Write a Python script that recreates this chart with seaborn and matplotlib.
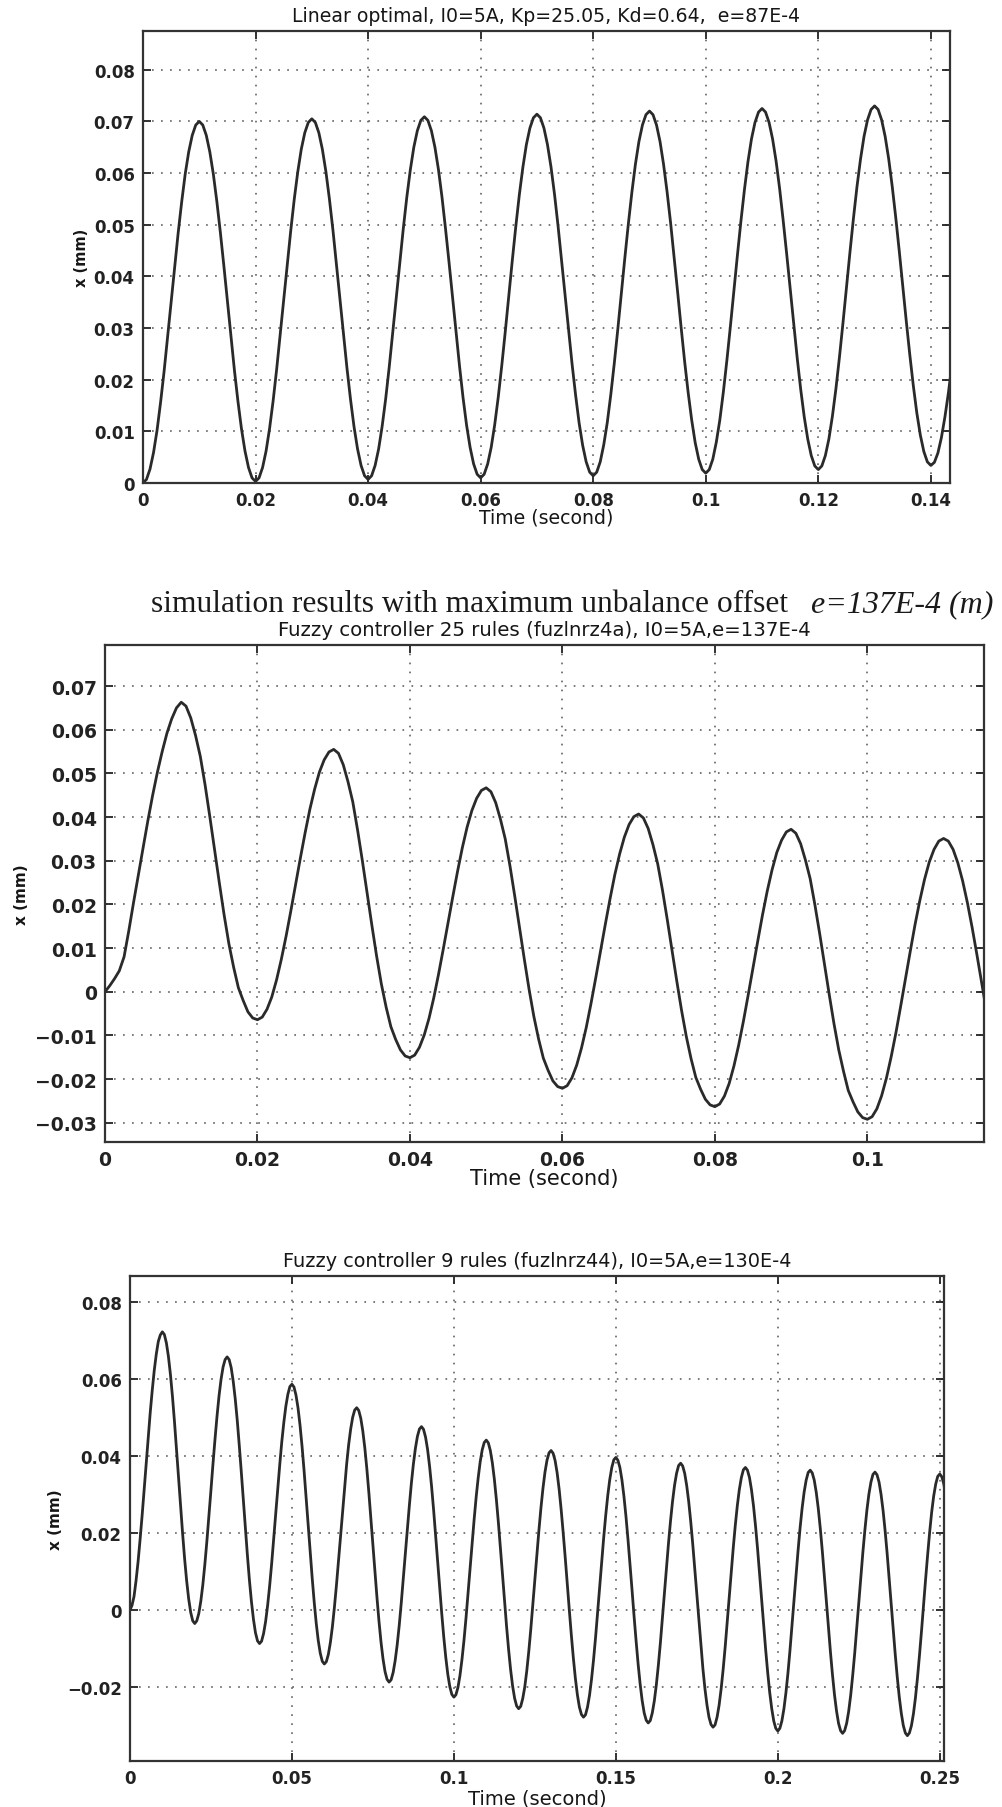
import numpy as np
import pandas as pd
import matplotlib
matplotlib.use("Agg")
import matplotlib.pyplot as plt
import seaborn as sns

#sample step of the simulation traces (seconds)
dt = 0.000625

#x (mm), one value per sample
linear_x = [
    0.0, 0.0007, 0.0027, 0.0059, 0.0102, 0.0156, 0.0216, 0.0282,
    0.0350, 0.0418, 0.0484, 0.0544, 0.0598, 0.0641, 0.0673, 0.0693,
    0.0700, 0.0693, 0.0673, 0.0641, 0.0598, 0.0545, 0.0485, 0.0420,
    0.0352, 0.0284, 0.0218, 0.0158, 0.0105, 0.0062, 0.0030, 0.0010,
    0.0003, 0.0010, 0.0030, 0.0062, 0.0106, 0.0159, 0.0220, 0.0286,
    0.0354, 0.0422, 0.0488, 0.0549, 0.0602, 0.0646, 0.0678, 0.0698,
    0.0705, 0.0698, 0.0678, 0.0646, 0.0603, 0.0550, 0.0490, 0.0424,
    0.0356, 0.0288, 0.0222, 0.0162, 0.0109, 0.0066, 0.0034, 0.0014,
    0.0007, 0.0014, 0.0034, 0.0066, 0.0110, 0.0163, 0.0224, 0.0290,
    0.0358, 0.0426, 0.0492, 0.0553, 0.0606, 0.0650, 0.0682, 0.0702,
    0.0709, 0.0702, 0.0682, 0.0650, 0.0607, 0.0554, 0.0493, 0.0428,
    0.0360, 0.0291, 0.0226, 0.0165, 0.0112, 0.0069, 0.0037, 0.0017,
    0.0010, 0.0017, 0.0037, 0.0069, 0.0113, 0.0166, 0.0227, 0.0293,
    0.0362, 0.0431, 0.0497, 0.0558, 0.0611, 0.0655, 0.0687, 0.0707,
    0.0714, 0.0707, 0.0687, 0.0655, 0.0612, 0.0559, 0.0498, 0.0432,
    0.0364, 0.0296, 0.0230, 0.0170, 0.0116, 0.0073, 0.0041, 0.0021,
    0.0014, 0.0021, 0.0041, 0.0074, 0.0117, 0.0171, 0.0232, 0.0298,
    0.0367, 0.0436, 0.0502, 0.0563, 0.0617, 0.0661, 0.0693, 0.0713,
    0.0720, 0.0713, 0.0693, 0.0661, 0.0617, 0.0564, 0.0504, 0.0438,
    0.0370, 0.0301, 0.0235, 0.0175, 0.0122, 0.0078, 0.0046, 0.0026,
    0.0019, 0.0026, 0.0046, 0.0079, 0.0122, 0.0176, 0.0237, 0.0303,
    0.0372, 0.0441, 0.0507, 0.0568, 0.0622, 0.0666, 0.0698, 0.0718,
    0.0725, 0.0718, 0.0698, 0.0666, 0.0623, 0.0570, 0.0509, 0.0444,
    0.0376, 0.0307, 0.0242, 0.0181, 0.0128, 0.0085, 0.0053, 0.0033,
    0.0026, 0.0033, 0.0053, 0.0085, 0.0129, 0.0182, 0.0243, 0.0309,
    0.0378, 0.0447, 0.0513, 0.0574, 0.0627, 0.0671, 0.0703, 0.0723,
    0.0730, 0.0723, 0.0703, 0.0671, 0.0628, 0.0575, 0.0515, 0.0450,
    0.0382, 0.0314, 0.0249, 0.0189, 0.0136, 0.0093, 0.0061, 0.0041,
    0.0034, 0.0040, 0.0058, 0.0088, 0.0128, 0.0175, 0.0230,
]

fuzzy25_x = [
    0.0, 0.0014, 0.0030, 0.0048, 0.0080, 0.0140, 0.0205, 0.0268,
    0.0330, 0.0392, 0.0450, 0.0503, 0.0550, 0.0592, 0.0625, 0.0650,
    0.0663, 0.0654, 0.0627, 0.0587, 0.0539, 0.0474, 0.0401, 0.0325,
    0.0249, 0.0176, 0.0110, 0.0056, 0.0009, -0.0020, -0.0046, -0.0060,
    -0.0064, -0.0058, -0.0040, -0.0012, 0.0027, 0.0074, 0.0127, 0.0185,
    0.0246, 0.0306, 0.0364, 0.0418, 0.0464, 0.0503, 0.0531, 0.0549,
    0.0555, 0.0546, 0.0520, 0.0481, 0.0435, 0.0371, 0.0301, 0.0227,
    0.0153, 0.0082, 0.0018, -0.0035, -0.0080, -0.0109, -0.0133, -0.0147,
    -0.0151, -0.0145, -0.0127, -0.0099, -0.0061, -0.0014, 0.0040, 0.0098,
    0.0158, 0.0218, 0.0276, 0.0330, 0.0377, 0.0415, 0.0443, 0.0461,
    0.0467, 0.0458, 0.0433, 0.0395, 0.0350, 0.0288, 0.0219, 0.0147,
    0.0075, 0.0006, -0.0056, -0.0108, -0.0152, -0.0180, -0.0204, -0.0217,
    -0.0221, -0.0215, -0.0197, -0.0168, -0.0129, -0.0082, -0.0027, 0.0032,
    0.0093, 0.0154, 0.0213, 0.0268, 0.0315, 0.0354, 0.0383, 0.0401,
    0.0407, 0.0398, 0.0374, 0.0337, 0.0293, 0.0233, 0.0166, 0.0095,
    0.0025, -0.0042, -0.0102, -0.0153, -0.0196, -0.0223, -0.0246, -0.0259,
    -0.0263, -0.0257, -0.0239, -0.0210, -0.0170, -0.0122, -0.0067, -0.0007,
    0.0055, 0.0116, 0.0176, 0.0231, 0.0279, 0.0319, 0.0347, 0.0366,
    0.0372, 0.0363, 0.0339, 0.0302, 0.0259, 0.0199, 0.0133, 0.0063,
    -0.0006, -0.0073, -0.0133, -0.0182, -0.0226, -0.0252, -0.0275, -0.0288,
    -0.0292, -0.0286, -0.0268, -0.0238, -0.0198, -0.0149, -0.0094, -0.0033,
    0.0030, 0.0092, 0.0153, 0.0208, 0.0257, 0.0297, 0.0326, 0.0345,
    0.0351, 0.0345, 0.0326, 0.0295, 0.0254, 0.0204, 0.0147, 0.0085,
    0.0020, -0.0044,
]

fuzzy9_x = [
    0.0, 0.0012, 0.0035, 0.0076, 0.0125, 0.0183, 0.0245, 0.0312,
    0.0380, 0.0447, 0.0512, 0.0570, 0.0622, 0.0664, 0.0697, 0.0714,
    0.0722, 0.0715, 0.0693, 0.0658, 0.0611, 0.0554, 0.0488, 0.0417,
    0.0344, 0.0270, 0.0199, 0.0133, 0.0076, 0.0029, -0.0006, -0.0028,
    -0.0035, -0.0028, -0.0009, 0.0023, 0.0066, 0.0119, 0.0179, 0.0244,
    0.0311, 0.0379, 0.0443, 0.0503, 0.0556, 0.0599, 0.0631, 0.0650,
    0.0657, 0.0650, 0.0629, 0.0594, 0.0548, 0.0492, 0.0427, 0.0358,
    0.0285, 0.0213, 0.0143, 0.0078, 0.0022, -0.0024, -0.0059, -0.0080,
    -0.0087, -0.0081, -0.0061, -0.0030, 0.0012, 0.0063, 0.0121, 0.0184,
    0.0250, 0.0315, 0.0378, 0.0437, 0.0487, 0.0529, 0.0560, 0.0580,
    0.0586, 0.0579, 0.0558, 0.0525, 0.0480, 0.0425, 0.0362, 0.0294,
    0.0223, 0.0152, 0.0084, 0.0021, -0.0034, -0.0079, -0.0112, -0.0133,
    -0.0140, -0.0134, -0.0115, -0.0084, -0.0043, 0.0008, 0.0065, 0.0128,
    0.0193, 0.0257, 0.0320, 0.0377, 0.0428, 0.0469, 0.0500, 0.0519,
    0.0525, 0.0518, 0.0498, 0.0465, 0.0421, 0.0367, 0.0305, 0.0238,
    0.0169, 0.0100, 0.0033, -0.0029, -0.0083, -0.0127, -0.0160, -0.0180,
    -0.0187, -0.0181, -0.0162, -0.0131, -0.0090, -0.0040, 0.0018, 0.0080,
    0.0145, 0.0209, 0.0271, 0.0329, 0.0379, 0.0420, 0.0451, 0.0470,
    0.0476, 0.0469, 0.0449, 0.0417, 0.0373, 0.0320, 0.0259, 0.0193,
    0.0125, 0.0057, -0.0009, -0.0070, -0.0123, -0.0167, -0.0199, -0.0219,
    -0.0226, -0.0220, -0.0201, -0.0170, -0.0128, -0.0078, -0.0020, 0.0043,
    0.0108, 0.0173, 0.0235, 0.0293, 0.0343, 0.0385, 0.0416, 0.0435,
    0.0441, 0.0434, 0.0414, 0.0382, 0.0339, 0.0286, 0.0226, 0.0161,
    0.0093, 0.0025, -0.0041, -0.0101, -0.0154, -0.0197, -0.0229, -0.0249,
    -0.0256, -0.0250, -0.0230, -0.0200, -0.0158, -0.0107, -0.0049, 0.0014,
    0.0079, 0.0144, 0.0207, 0.0265, 0.0316, 0.0358, 0.0389, 0.0408,
    0.0414, 0.0407, 0.0388, 0.0356, 0.0313, 0.0260, 0.0200, 0.0136,
    0.0068, 0.0001, -0.0064, -0.0124, -0.0177, -0.0220, -0.0252, -0.0271,
    -0.0278, -0.0272, -0.0252, -0.0221, -0.0179, -0.0128, -0.0070, -0.0007,
    0.0059, 0.0125, 0.0188, 0.0246, 0.0297, 0.0339, 0.0370, 0.0390,
    0.0396, 0.0389, 0.0370, 0.0338, 0.0295, 0.0243, 0.0183, 0.0119,
    0.0052, -0.0016, -0.0080, -0.0140, -0.0192, -0.0235, -0.0267, -0.0286,
    -0.0293, -0.0287, -0.0267, -0.0236, -0.0194, -0.0143, -0.0085, -0.0022,
    0.0044, 0.0110, 0.0173, 0.0231, 0.0282, 0.0324, 0.0355, 0.0375,
    0.0381, 0.0374, 0.0355, 0.0323, 0.0281, 0.0229, 0.0170, 0.0105,
    0.0039, -0.0028, -0.0093, -0.0152, -0.0204, -0.0246, -0.0278, -0.0297,
    -0.0304, -0.0298, -0.0278, -0.0247, -0.0205, -0.0154, -0.0096, -0.0033,
    0.0033, 0.0099, 0.0162, 0.0220, 0.0271, 0.0313, 0.0344, 0.0364,
    0.0370, 0.0363, 0.0344, 0.0312, 0.0270, 0.0218, 0.0159, 0.0095,
    0.0028, -0.0039, -0.0103, -0.0162, -0.0214, -0.0256, -0.0288, -0.0307,
    -0.0314, -0.0307, -0.0288, -0.0257, -0.0215, -0.0164, -0.0105, -0.0041,
    0.0025, 0.0091, 0.0154, 0.0213, 0.0264, 0.0306, 0.0337, 0.0357,
    0.0363, 0.0356, 0.0337, 0.0305, 0.0263, 0.0211, 0.0152, 0.0088,
    0.0022, -0.0045, -0.0109, -0.0168, -0.0220, -0.0262, -0.0294, -0.0313,
    -0.0320, -0.0313, -0.0294, -0.0263, -0.0221, -0.0169, -0.0111, -0.0047,
    0.0019, 0.0085, 0.0149, 0.0207, 0.0259, 0.0301, 0.0332, 0.0352,
    0.0358, 0.0351, 0.0332, 0.0300, 0.0258, 0.0206, 0.0147, 0.0083,
    0.0016, -0.0051, -0.0115, -0.0174, -0.0226, -0.0268, -0.0300, -0.0319,
    -0.0326, -0.0319, -0.0300, -0.0269, -0.0227, -0.0175, -0.0116, -0.0053,
    0.0014, 0.0080, 0.0143, 0.0202, 0.0254, 0.0296, 0.0327, 0.0347,
    0.0353, 0.0346, 0.0327, 0.0295,
]

#titles
titles = [
    "Linear optimal, I0=5A, Kp=25.05, Kd=0.64,  e=87E-4",
    "Fuzzy controller 25 rules (fuzlnrz4a), I0=5A,e=137E-4",
    "Fuzzy controller 9 rules (fuzlnrz44), I0=5A,e=130E-4",
]

#tick values and labels for each panel
x_ticks_1 = [0, 0.02, 0.04, 0.06, 0.08, 0.1, 0.12, 0.14]
x_labels_1 = ["0", "0.02", "0.04", "0.06", "0.08", "0.1", "0.12", "0.14"]
y_ticks_1 = [0, 0.01, 0.02, 0.03, 0.04, 0.05, 0.06, 0.07, 0.08]
y_labels_1 = ["0", "0.01", "0.02", "0.03", "0.04", "0.05", "0.06", "0.07", "0.08"]

x_ticks_2 = [0, 0.02, 0.04, 0.06, 0.08, 0.1]
x_labels_2 = ["0", "0.02", "0.04", "0.06", "0.08", "0.1"]
y_ticks_2 = [-0.03, -0.02, -0.01, 0, 0.01, 0.02, 0.03, 0.04, 0.05, 0.06, 0.07]
y_labels_2 = ["\u22120.03", "\u22120.02", "\u22120.01", "0", "0.01", "0.02",
              "0.03", "0.04", "0.05", "0.06", "0.07"]

x_ticks_3 = [0, 0.05, 0.1, 0.15, 0.2, 0.25]
x_labels_3 = ["0", "0.05", "0.1", "0.15", "0.2", "0.25"]
y_ticks_3 = [-0.02, 0, 0.02, 0.04, 0.06, 0.08]
y_labels_3 = ["\u22120.02", "0", "0.02", "0.04", "0.06", "0.08"]

#axis ranges
x_lims = [(0, 0.1434), (0, 0.1153), (0, 0.2513)]
y_lims = [(0, 0.0875), (-0.0344, 0.0794), (-0.0392, 0.0867)]

#figure layout: [left, bottom, width, height] in figure fractions
axes_boxes = [
    [0.1427, 0.7323, 0.8054, 0.2500],
    [0.1048, 0.3678, 0.8772, 0.2749],
    [0.1297, 0.0254, 0.8124, 0.2683],
]
ylabel_x = [-0.067, -0.086, -0.082]
xlabel_y = [-0.0553, -0.0523, -0.0557]

#text sizes per panel (the middle scan is a little larger)
tick_size = [12, 13.5, 12]
title_size = [13.6, 14.2, 13.9]
xlabel_size = [13.6, 15, 14]
ylabel_size = [10.5, 11, 11]

sns.set_theme(style="white")
plt.rcParams['font.family'] = ['DejaVu Sans']

fig = plt.figure(figsize=(10.02, 18.08), dpi=100)
fig.patch.set_facecolor("white")

text_col = "#161616"
line_col = "#2a2a2a"
panels = [linear_x, fuzzy25_x, fuzzy9_x]
ticks = [(x_ticks_1, x_labels_1, y_ticks_1, y_labels_1),
         (x_ticks_2, x_labels_2, y_ticks_2, y_labels_2),
         (x_ticks_3, x_labels_3, y_ticks_3, y_labels_3)]

for i in range(3):
    ax = fig.add_axes(axes_boxes[i])
    df = pd.DataFrame({"t": np.arange(len(panels[i])) * dt, "x": panels[i]})
    sns.lineplot(data=df, x="t", y="x", ax=ax, color=line_col, linewidth=2.0,
                 estimator=None, sort=False, solid_joinstyle="round")
    ax.set_xlim(x_lims[i])
    ax.set_ylim(y_lims[i])

    xt, xl, yt, yl = ticks[i]
    ax.set_xticks(xt)
    ax.set_xticklabels(xl, fontsize=tick_size[i], fontweight="bold", color=text_col)
    ax.set_yticks(yt)
    ax.set_yticklabels(yl, fontsize=tick_size[i], fontweight="bold", color=text_col)

    #matlab style: inward ticks on all sides, dotted grid
    ax.tick_params(direction="in", length=5.5, width=1.3, top=True, right=True,
                   bottom=True, left=True, pad=6, colors="#222222")
    ax.grid(True, color="#555555", linestyle=(0, (1.1, 4.8)), linewidth=1.1)
    for sp in ax.spines.values():
        sp.set_visible(True)
        sp.set_color("#333333")
        sp.set_linewidth(1.6)

    ax.set_title(titles[i], fontsize=title_size[i], pad=7, color=text_col)
    ax.set_xlabel("Time (second)", fontsize=xlabel_size[i], color=text_col)
    ax.set_ylabel("x (mm)", fontsize=ylabel_size[i], fontweight="bold", color=text_col)
    ax.xaxis.set_label_coords(0.5, xlabel_y[i])
    ax.yaxis.set_label_coords(ylabel_x[i], 0.5)

#heading between first and second panel
fig.text(151 / 1002, 1 - 612 / 1808, "simulation results with maximum unbalance offset",
         family="Liberation Serif", fontsize=22.7, ha="left", va="baseline", color="#1a1a1a")
fig.text(811 / 1002, 1 - 612 / 1808, "e=137E-4 (m)",
         family="Liberation Serif", style="italic", fontsize=23, ha="left",
         va="baseline", color="#1a1a1a")

fig.savefig("out.png", dpi=100, facecolor="white")
